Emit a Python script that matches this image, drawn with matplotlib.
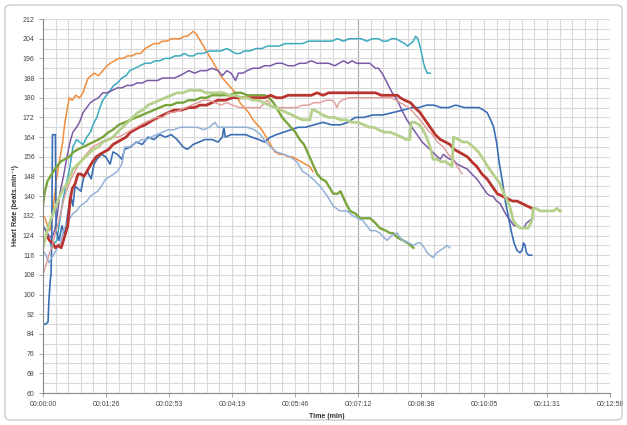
import numpy as np
from matplotlib import pyplot as plt
from matplotlib.patches import FancyBboxPatch

plt.rcParams['font.family'] = ['Liberation Sans', 'DejaVu Sans']

# time in seconds, heart rate in beats/min
orange_t = [0, 3, 6, 9, 12, 15, 19, 23, 27, 30, 33, 36, 40, 45, 50, 55, 58, 62, 66, 70, 76, 82, 88, 92, 98,
            104, 110, 116, 122, 128, 134, 140, 146, 152, 158, 164, 170, 176, 182, 188, 194, 198, 202, 206,
            210, 216, 222, 228, 234, 240, 246, 252, 258, 264, 270, 276, 282, 288, 294, 300, 306, 312, 318,
            324, 330, 336, 342, 348, 354, 360, 366, 370]
orange_hr = [132, 131, 128, 126, 129, 138, 148, 155, 162, 170, 175, 180, 179, 181, 180, 182, 185, 188, 189, 190,
             189, 191, 193, 194, 195, 196, 196, 197, 197, 198, 198, 200, 201, 202, 202, 203, 203, 204, 204, 204,
             205, 205, 206, 207, 206, 203, 200, 197, 194, 191, 188, 186, 184, 182, 178, 176, 174, 171, 169, 167,
             164, 161, 158, 157, 157, 156, 156, 155, 154, 153, 152, 150]

cyan_t = [0, 4, 8, 12, 16, 19, 23, 27, 32, 37, 41, 46, 50, 55, 60, 65, 70, 74, 78, 82, 87, 92, 97, 102, 108,
          114, 119, 126, 133, 140, 147, 154, 160, 167, 174, 181, 188, 194, 200, 206, 212, 220, 228, 236, 244,
          252, 258, 264, 270, 276, 284, 292, 300, 308, 316, 324, 332, 340, 348, 356, 364, 372, 380, 388, 396,
          404, 412, 420, 428, 436, 444, 452, 460, 466, 472, 478, 484, 490, 496, 500, 504, 508, 511, 514, 517,
          520, 522, 524, 527, 531]
cyan_hr = [128, 126, 123, 119, 121, 122, 130, 138, 145, 152, 160, 163, 162, 161, 164, 166, 170, 172, 176, 179,
           181, 183, 185, 186, 188, 189, 191, 192, 193, 194, 194, 195, 195, 196, 196, 197, 197, 198, 197, 197,
           198, 198, 199, 199, 199, 200, 199, 198, 198, 199, 199, 200, 200, 201, 201, 201, 202, 202, 202, 202,
           203, 203, 203, 203, 203, 204, 203, 204, 204, 204, 203, 204, 204, 203, 203, 204, 204, 203, 202, 201,
           202, 203, 205, 204, 201, 197, 194, 192, 190, 190]

purple_t = [0, 4, 8, 12, 16, 20, 23, 28, 33, 37, 41, 46, 50, 55, 60, 65, 70, 76, 82, 88, 95, 102, 108, 115,
            122, 129, 136, 143, 150, 157, 164, 172, 180, 188, 194, 200, 208, 216, 224, 232, 240, 246, 252, 258,
            264, 268, 274, 280, 288, 296, 304, 312, 320, 328, 336, 344, 352, 360, 368, 376, 384, 392, 400, 406,
            412, 418, 424, 430, 436, 442, 448, 452, 456, 460, 465, 472, 479, 486, 492, 499, 506, 513, 520, 527,
            534, 541, 545, 549, 553, 558, 562, 568, 575, 582, 588, 595, 602, 609, 614, 617, 622, 627, 634, 641,
            646, 650, 655, 659, 663, 667, 671]
purple_hr = [128, 126, 124, 123, 126, 133, 141, 148, 156, 162, 166, 168, 170, 174, 176, 178, 179, 180, 182, 182,
             183, 184, 184, 185, 185, 186, 186, 187, 187, 187, 188, 188, 188, 189, 190, 191, 190, 191, 191, 192,
             191, 189, 191, 190, 187, 190, 190, 191, 192, 192, 193, 193, 194, 194, 193, 193, 194, 194, 195, 194,
             194, 194, 193, 194, 195, 194, 195, 194, 194, 194, 194, 193, 192, 192, 190, 186, 182, 179, 175, 171,
             168, 165, 162, 160, 158, 156, 155, 157, 156, 155, 155, 153, 152, 151, 149, 147, 144, 141, 140, 140,
             138, 137, 133, 130, 128, 128, 127, 127, 129, 130, 131]

blue_t = [0, 4, 7, 8, 10, 11, 12, 13, 17, 18, 22, 26, 30, 34, 38, 41, 44, 48, 52, 56, 61, 66, 70, 74, 80, 86,
          92, 96, 102, 108, 112, 120, 128, 136, 144, 152, 160, 168, 176, 184, 192, 198, 206, 214, 222, 232, 240,
          246, 248, 250, 258, 268, 278, 286, 296, 304, 312, 320, 330, 340, 350, 360, 372, 384, 396, 408, 418,
          428, 440, 452, 466, 480, 494, 506, 516, 526, 536, 546, 556, 566, 578, 590, 598, 604, 609, 614, 618,
          622, 626, 630, 634, 638, 642, 646, 650, 654, 657, 659, 661, 663, 666, 670]
blue_hr = [88, 88, 89, 97, 106, 108, 122, 165, 165, 126, 122, 128, 124, 133, 140, 136, 144, 143, 142, 148, 150,
           147, 153, 155, 157, 156, 153, 158, 157, 155, 159, 160, 162, 161, 164, 163, 165, 164, 165, 163, 160,
           159, 161, 162, 163, 163, 162, 164, 168, 164, 165, 165, 165, 164, 163, 162, 164, 165, 166, 167, 168,
           168, 169, 170, 169, 169, 170, 172, 172, 173, 173, 174, 175, 176, 176, 177, 177, 176, 176, 177, 176,
           176, 176, 175, 174, 171, 168, 162, 153, 146, 138, 132, 126, 121, 118, 117, 118, 121, 120, 117, 116,
           116]

green_t = [0, 2, 6, 10, 14, 19, 24, 30, 36, 42, 48, 55, 62, 69, 76, 82, 90, 96, 104, 112, 120, 128, 136, 144,
           152, 160, 168, 176, 184, 192, 200, 208, 216, 224, 232, 240, 248, 256, 264, 272, 280, 288, 296, 304,
           310, 316, 322, 328, 334, 340, 346, 352, 358, 364, 370, 376, 382, 388, 394, 398, 404, 408, 414, 421,
           428, 435, 442, 449, 456, 462, 470, 476, 480, 487, 494, 500, 508]
green_hr = [136, 141, 146, 148, 150, 152, 154, 155, 156, 158, 159, 160, 161, 162, 163, 164, 166, 167, 169, 170,
            171, 172, 173, 174, 175, 176, 177, 177, 178, 178, 179, 179, 180, 180, 181, 181, 181, 181, 182, 182,
            181, 181, 181, 181, 180, 178, 175, 172, 170, 168, 166, 163, 161, 157, 153, 149, 147, 146, 143, 141,
            141, 142, 138, 134, 133, 131, 131, 131, 129, 127, 126, 125, 125, 123, 122, 121, 119]

lblue_t = [0, 4, 8, 12, 16, 20, 24, 28, 33, 37, 41, 46, 51, 56, 60, 65, 70, 75, 80, 86, 92, 97, 102, 108, 110,
           112, 118, 124, 130, 136, 142, 148, 156, 164, 172, 180, 188, 196, 204, 212, 220, 228, 236, 240, 248,
           256, 264, 272, 280, 290, 298, 306, 312, 320, 330, 339, 348, 356, 362, 370, 380, 390, 398, 407, 417,
           425, 432, 439, 444, 449, 456, 462, 468, 472, 478, 486, 490, 494, 502, 508, 514, 518, 523, 527, 531,
           535, 540, 545, 550, 554, 558]
lblue_hr = [118, 116, 113, 115, 117, 119, 121, 126, 129, 131, 133, 134, 136, 137, 138, 140, 141, 142, 144, 147,
            148, 149, 150, 153, 156, 160, 160, 161, 162, 163, 163, 164, 165, 166, 167, 167, 168, 168, 168, 168,
            167, 168, 170, 168, 168, 168, 168, 168, 168, 167, 165, 162, 160, 158, 157, 156, 154, 150, 149, 147,
            144, 140, 136, 134, 134, 132, 131, 130, 128, 126, 126, 125, 123, 122, 124, 125, 123, 122, 121, 120,
            121, 121, 119, 117, 116, 115, 117, 118, 119, 120, 119]

red_t = [5, 9, 13, 17, 21, 25, 28, 31, 34, 37, 40, 44, 48, 52, 56, 60, 64, 68, 73, 78, 84, 90, 96, 102, 108,
         114, 120, 126, 132, 140, 151, 158, 165, 172, 180, 190, 200, 208, 215, 224, 232, 240, 250, 260, 270,
         280, 288, 296, 304, 312, 320, 328, 336, 344, 352, 360, 368, 376, 384, 392, 400, 408, 416, 424, 432,
         440, 448, 456, 464, 472, 480, 486, 490, 496, 504, 510, 517, 524, 531, 538, 545, 552, 558, 564, 570,
         576, 582, 588, 595, 602, 609, 616, 623, 630, 637, 644, 650, 657, 664, 671]
red_hr = [124, 122, 121, 119, 120, 119, 122, 125, 128, 138, 143, 145, 149, 149, 148, 150, 152, 154, 156, 157,
          158, 159, 161, 162, 163, 164, 166, 167, 168, 169, 171, 172, 173, 174, 175, 175, 176, 176, 177, 177,
          178, 179, 179, 180, 180, 180, 180, 180, 180, 181, 180, 180, 181, 181, 181, 181, 181, 182, 181, 182,
          182, 182, 182, 182, 182, 182, 182, 182, 181, 181, 181, 181, 180, 179, 178, 176, 174, 171, 168, 165,
          163, 162, 161, 159, 158, 157, 156, 154, 152, 149, 147, 144, 141, 140, 139, 138, 138, 137, 136, 135]

pink_t = [0, 3, 6, 9, 12, 16, 20, 24, 28, 32, 37, 42, 47, 52, 56, 62, 68, 74, 80, 86, 92, 98, 104, 110, 116,
          122, 128, 134, 140, 148, 156, 164, 172, 180, 188, 196, 204, 212, 220, 228, 236, 244, 252, 260, 270,
          280, 290, 298, 304, 308, 312, 316, 324, 332, 340, 348, 356, 364, 372, 380, 388, 396, 400, 403, 406,
          410, 420, 430, 440, 450, 460, 470, 478, 484, 490, 496, 502, 508, 514, 520, 527, 534, 541, 549, 556,
          562, 568, 575]
pink_hr = [108, 111, 114, 117, 119, 124, 128, 133, 138, 142, 146, 149, 152, 154, 156, 158, 160, 161, 162, 163,
           163, 164, 164, 165, 166, 167, 168, 169, 170, 171, 172, 172, 174, 174, 175, 176, 177, 178, 179, 179,
           178, 177, 178, 177, 176, 176, 176, 176, 178, 179, 177, 176, 176, 176, 176, 176, 177, 177, 178, 178,
           179, 179, 178, 176, 178, 179, 180, 180, 180, 180, 180, 180, 180, 179, 178, 177, 176, 174, 172, 170,
           167, 165, 162, 160, 157, 155, 152, 149]

lgreen_t = [0, 5, 10, 14, 19, 23, 28, 33, 37, 41, 48, 55, 62, 69, 76, 82, 90, 96, 102, 109, 116, 123, 130, 137,
            144, 152, 160, 168, 176, 184, 192, 200, 208, 216, 224, 232, 240, 248, 256, 264, 272, 280, 288, 296,
            302, 310, 318, 326, 334, 342, 348, 356, 362, 366, 369, 372, 378, 384, 392, 400, 408, 416, 424, 432,
            440, 448, 454, 460, 468, 476, 484, 492, 498, 503, 505, 510, 516, 521, 526, 531, 535, 540, 546, 552,
            557, 561, 563, 570, 576, 582, 590, 597, 604, 610, 617, 622, 627, 632, 637, 641, 645, 650, 655, 660,
            665, 669, 671, 672, 676, 682, 690, 696, 700, 705, 708, 710]
lgreen_hr = [119, 125, 130, 133, 137, 140, 143, 145, 148, 151, 153, 155, 157, 159, 160, 162, 163, 164, 166, 168,
             170, 172, 174, 175, 177, 178, 179, 180, 181, 182, 182, 183, 183, 183, 182, 182, 182, 182, 181, 181,
             180, 180, 179, 179, 178, 177, 176, 175, 174, 173, 172, 171, 171, 171, 175, 175, 174, 173, 172, 172,
             171, 171, 170, 170, 169, 168, 168, 167, 166, 166, 165, 164, 163, 163, 170, 170, 169, 167, 164, 160,
             155, 155, 154, 154, 153, 152, 164, 163, 162, 162, 160, 158, 155, 152, 149, 147, 145, 141, 138, 135,
             130, 128, 127, 127, 127, 129, 131, 135, 135, 134, 134, 134, 134, 135, 134, 134]

x_labels = ['00:00:00', '00:01:26', '00:02:53', '00:04:19', '00:05:46', '00:07:12',
            '00:08:38', '00:10:05', '00:11:31', '00:12:58']
y_ticks = list(range(60, 213, 8))

fig = plt.figure(figsize=(6.27, 4.25), dpi=100)
ax = fig.add_axes([43 / 627, 1 - 393 / 425, 567 / 627, 374 / 425])

# grid: every 17.28 s (0.0002 day) and every 4 bpm
for gx in np.arange(0, 778, 17.28):
    ax.axvline(gx, color='#d9d9d9', lw=0.8, zorder=0)
ax.axvline(432, color='#a8a8a8', lw=0.8, zorder=0)
for gy in range(60, 213, 4):
    ax.axhline(gy, color='#d9d9d9', lw=0.8, zorder=0)

ax.plot(orange_t, orange_hr, color='#f08c3a', lw=1.1)
ax.plot(cyan_t, cyan_hr, color='#3aa9c0', lw=1.1)
ax.plot(purple_t, purple_hr, color='#7b5aa6', lw=1.1)
ax.plot(blue_t, blue_hr, color='#3b6db3', lw=1.2)
ax.plot(green_t, green_hr, color='#7aa43c', lw=1.7)
ax.plot(lblue_t, lblue_hr, color='#94b0d8', lw=1.1)
ax.plot(red_t, red_hr, color='#b9342f', lw=2.0)
ax.plot(pink_t, pink_hr, color='#e09b98', lw=1.0)
ax.plot(lgreen_t, lgreen_hr, color='#b4d08a', lw=2.0)

ax.set_xlim(0, 777.6)
ax.set_ylim(60, 212)
ax.set_xticks(np.arange(10) * 86.4)
ax.set_xticklabels(x_labels)
ax.set_yticks(y_ticks)
ax.tick_params(labelsize=5, length=3, width=0.6, color='#9a9a9a', pad=3, labelcolor='#444444')

for s in ['top', 'right']:
    ax.spines[s].set_visible(False)
for s in ['left', 'bottom']:
    ax.spines[s].set_color('#8a8a8a')
    ax.spines[s].set_linewidth(0.8)

ax.set_xlabel('Time (min)', fontsize=5, fontweight='bold', labelpad=3, color='#333333')
ax.set_ylabel('Heart Rate (beats.min⁻¹)', fontsize=5, fontweight='bold', labelpad=3, color='#333333')

border = FancyBboxPatch((5 / 627, 5 / 425), 617 / 627, 415 / 425, boxstyle='round,pad=0,rounding_size=0.01',
                        transform=fig.transFigure, fill=False, edgecolor='#bfbfbf', lw=0.8)
fig.patches.append(border)

fig.savefig('out.png', dpi=100)
